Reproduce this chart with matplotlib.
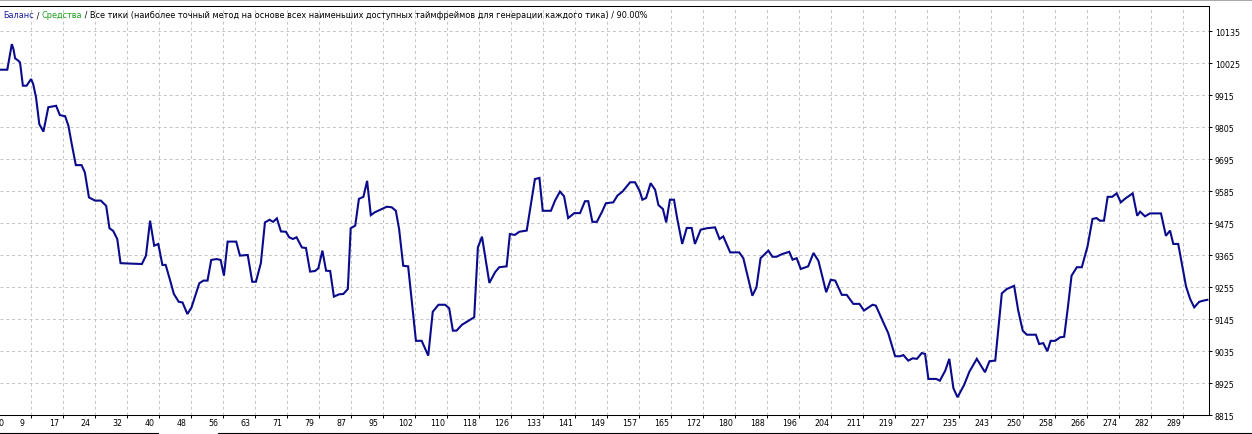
import numpy as np
import matplotlib
matplotlib.use("Agg")
import matplotlib.pyplot as plt
from matplotlib.lines import Line2D
from matplotlib.transforms import IdentityTransform

# balance curve (trade number, balance)
trades = [0, 3.3, 4.4, 4.8, 5.2, 6.0, 6.4, 7.1, 8.0, 9.1, 9.6, 10.3, 11.1, 12.1, 13.3,
          15.2, 16.1, 17.4, 18.2, 19.0, 20.0, 21.4, 22.2, 23.2, 24.7, 26.1, 27.4, 28.2,
          29.1, 30.1, 30.9, 32.4, 36.1, 37.1, 38.1, 39.1, 40.1, 41.1, 41.9, 43.0, 43.9,
          45.1, 46.0, 47.2, 48.2, 50.1, 51.1, 52.1, 53.0, 54.3, 55.3, 56.1, 57.0, 59.1,
          60.0, 61.9, 63.0, 63.9, 65.1, 66.1, 67.2, 68.1, 69.0, 70.0, 71.2, 72.0, 72.9,
          73.8, 75.1, 76.1, 77.1, 78.3, 79.1, 80.1, 81.0, 82.0, 82.9, 84.2, 85.2, 86.3,
          87.0, 88.1, 89.0, 90.1, 91.0, 91.9, 92.9, 94.6, 95.8, 97.0, 98.0, 98.8, 99.8,
          101.0, 102.9, 104.3, 105.9, 107.0, 108.4, 110.0, 111.0, 111.9, 112.8, 114.1,
          115.7, 117.1, 118.0, 119.0, 120.8, 122.2, 123.2, 125.0, 125.8, 127.0, 128.1,
          129.9, 131.9, 133.0, 133.8, 135.8, 136.8, 138.0, 139.0, 140.0, 141.5, 142.9,
          144.1, 144.9, 145.9, 147.0, 148.2, 149.2, 151.0, 152.0, 153.3, 155.1, 156.3,
          157.4, 158.1, 159.0, 160.1, 161.2, 162.0, 163.1, 163.9, 164.8, 165.8, 166.6,
          167.8, 168.9, 170.1, 170.9, 172.3, 173.8, 175.8, 176.9, 177.8, 179.5, 181.7,
          182.7, 184.9, 185.9, 186.9, 188.8, 189.8, 190.8, 192.1, 193.9, 194.7, 195.7,
          196.7, 198.5, 199.8, 201.0, 202.9, 204.0, 205.1, 206.7, 207.9, 209.5, 211.0,
          212.1, 214.2, 215.0, 216.8, 218.0, 219.7, 220.9, 221.7, 222.9, 224.0, 225.0,
          226.2, 227.0, 227.8, 229.7, 230.6, 231.9, 232.9, 233.9, 234.9, 236.5, 237.8,
          239.6, 241.6, 242.7, 244.1, 245.7, 246.9, 248.7, 249.7, 250.8, 251.8, 254.0,
          254.8, 255.8, 256.8, 257.6, 258.7, 259.9, 260.9, 261.8, 262.7, 264.0, 265.2,
          266.6, 267.8, 268.8, 269.6, 270.6, 271.5, 272.6, 273.7, 274.7, 275.7, 277.6,
          278.7, 279.4, 280.6, 281.8, 284.5, 285.7, 286.7, 287.5, 288.7, 290.6, 291.6,
          292.6, 293.8, 294.8, 295.8]

balance = [10002, 10002, 10090, 10073, 10041, 10033, 10027, 9947, 9947, 9970, 9953, 9907,
           9815, 9789, 9873, 9878, 9846, 9842, 9809, 9747, 9674, 9674, 9649, 9563, 9552,
           9552, 9534, 9457, 9448, 9420, 9337, 9336, 9334, 9363, 9483, 9397, 9403, 9331,
           9331, 9277, 9231, 9204, 9202, 9162, 9185, 9268, 9277, 9277, 9348, 9351, 9348,
           9294, 9411, 9411, 9363, 9365, 9273, 9273, 9337, 9477, 9486, 9479, 9491, 9446,
           9445, 9426, 9420, 9426, 9391, 9389, 9308, 9310, 9319, 9380, 9311, 9310, 9222,
           9230, 9231, 9248, 9457, 9466, 9558, 9565, 9620, 9502, 9512, 9523, 9531, 9529,
           9517, 9454, 9328, 9326, 9070, 9070, 9019, 9170, 9194, 9194, 9182, 9105, 9105,
           9125, 9139, 9151, 9391, 9428, 9269, 9306, 9323, 9326, 9437, 9434, 9445, 9449,
           9626, 9630, 9517, 9517, 9552, 9583, 9567, 9492, 9509, 9509, 9550, 9550, 9479,
           9479, 9512, 9543, 9546, 9569, 9584, 9615, 9615, 9586, 9555, 9561, 9612, 9589,
           9537, 9523, 9477, 9555, 9555, 9489, 9403, 9458, 9458, 9403, 9452, 9457, 9460,
           9420, 9429, 9374, 9374, 9354, 9225, 9254, 9354, 9380, 9359, 9359, 9368, 9376,
           9349, 9354, 9317, 9326, 9372, 9345, 9237, 9280, 9277, 9228, 9228, 9197, 9197,
           9174, 9194, 9191, 9134, 9097, 9017, 9017, 9021, 9002, 9010, 9008, 9028, 9025,
           8939, 8939, 8933, 8967, 9008, 8907, 8876, 8918, 8964, 9008, 8962, 9000, 9002,
           9233, 9248, 9259, 9174, 9105, 9091, 9091, 9059, 9062, 9034, 9070, 9070, 9082,
           9084, 9185, 9294, 9323, 9323, 9395, 9489, 9492, 9483, 9483, 9565, 9565, 9577,
           9546, 9558, 9577, 9500, 9514, 9498, 9508, 9508, 9431, 9449, 9403, 9403, 9257,
           9214, 9185, 9204, 9208, 9211]

x_labels = ['9', '17', '24', '32', '40', '48', '56', '63', '71', '79', '87', '95', '102',
            '110', '118', '126', '133', '141', '149', '157', '165', '172', '180', '188',
            '196', '204', '211', '219', '227', '235', '243', '250', '258', '266', '274',
            '282', '289']
y_ticks = [8815, 8925, 9035, 9145, 9255, 9365, 9475, 9585, 9695, 9805, 9915, 10025, 10135]

header = [("Баланс", "#1c1c9c"),
          (" / ", "black"),
          ("Средства", "#1aa01a"),
          (" / Все тики (наиболее точный метод на основе всех наименьших доступных "
           "таймфреймов для генерации каждого тика) / 90.00%", "black")]

W, H, DPI = 1252, 435, 100
fig = plt.figure(figsize=(W / DPI, H / DPI), dpi=DPI)
fig.patch.set_facecolor("white")
ax = fig.add_axes([0, 19 / H, 1209 / W, 409 / H])

FS = 5.7
ax.plot(trades, balance, color="#0a0a8c", linewidth=1.5, solid_joinstyle="miter")

ax.set_xlim(1.52, 296.2)
ax.set_ylim(8815, 10221)

# x ticks every 32 px (7.8 trades); MT4 puts the number left of the tick mark
x_pos = 1.2 + 7.8 * np.arange(1, len(x_labels) + 1)
ax.set_xticks(x_pos)
ax.set_xticklabels([])
for xp, lab in zip(x_pos, x_labels):
    ax.annotate(lab, xy=(xp, 0), xycoords=("data", "axes fraction"), xytext=(-9, -3.2),
                textcoords="offset pixels", ha="center", va="top", fontsize=FS,
                annotation_clip=False)
ax.annotate("0", xy=(0, 0), xycoords="axes fraction", xytext=(-1.5, -3.2),
            textcoords="offset pixels", ha="left", va="top", fontsize=FS,
            annotation_clip=False)

ax.set_yticks(y_ticks)
ax.set_yticklabels([str(v) for v in y_ticks], fontsize=FS)
ax.yaxis.tick_right()
ax.tick_params(axis="x", direction="out", length=2.2, width=0.7, colors="black")
ax.tick_params(axis="y", direction="out", length=2.2, width=0.7, pad=2.0, colors="black")

ax.grid(True, color="#c4c4c4", linestyle=(0, (3, 3)), linewidth=0.7)
ax.set_axisbelow(True)
for side in ["top", "right", "bottom"]:
    ax.spines[side].set_color("black")
    ax.spines[side].set_linewidth(0.75)
ax.spines["left"].set_visible(False)

# header line, coloured parts placed one after another
fig.canvas.draw()
x_px = 3
for txt, col in header:
    t = fig.text(x_px / W, 1 - 16 / H, txt, color=col, fontsize=FS + 0.2,
                 ha="left", va="center")
    fig.canvas.draw()
    x_px = t.get_window_extent().x1

# window frame lines (grey line on top, tab bar at the bottom)
px = IdentityTransform()
fig.add_artist(Line2D([0, W], [H - 1, H - 1], transform=px, color="#a8a8a8", linewidth=1.4))
fig.add_artist(Line2D([0, 158, 158], [1.5, 1.5, 0], transform=px, color="black", linewidth=0.8))
fig.add_artist(Line2D([218, 218, W], [0, 1.5, 1.5], transform=px, color="black", linewidth=0.8))

fig.savefig("out.png", dpi=DPI, facecolor="white")
